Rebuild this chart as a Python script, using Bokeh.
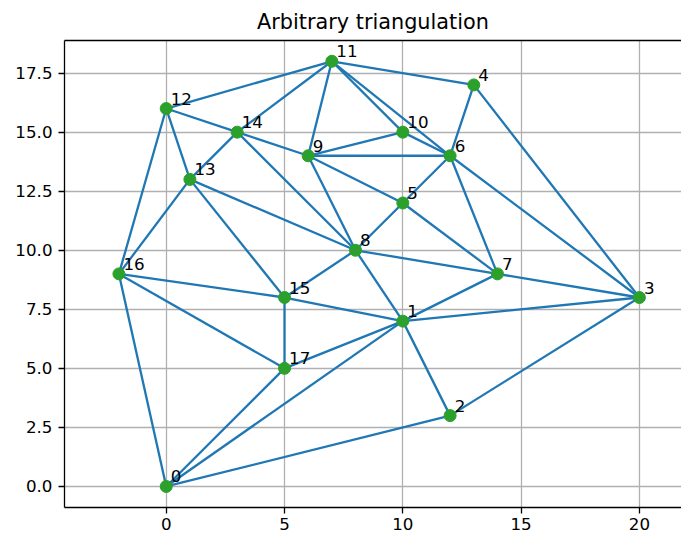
from bokeh.plotting import figure
from bokeh.models import Range1d, FixedTicker, PrintfTickFormatter, LinearAxis, ColumnDataSource
from bokeh.core.properties import value
from bokeh.embed import file_html
from bokeh.resources import INLINE

# Point coordinates (index = label)
xs = [0, 10, 12, 20, 13, 10, 12, 14, 8, 6, 10, 7, 0, 1, 3, 5, -2, 5]
ys = [0, 7, 3, 8, 17, 12, 14, 9, 10, 14, 15, 18, 16, 13, 15, 8, 9, 5]
labels = [str(i) for i in range(len(xs))]

# Triangles (vertex indices)
triangles = [
    (0, 16, 17), (0, 17, 1), (0, 1, 2), (1, 2, 3), (1, 3, 7), (1, 7, 8),
    (1, 8, 15), (1, 15, 17), (15, 16, 17), (13, 15, 16), (12, 13, 16),
    (8, 13, 15), (8, 13, 14), (12, 13, 14), (11, 12, 14), (9, 11, 14),
    (8, 9, 14), (5, 8, 9), (5, 6, 9), (6, 9, 10), (9, 10, 11), (6, 10, 11),
    (4, 6, 11), (3, 4, 6), (3, 6, 7), (5, 6, 7), (5, 7, 8),
]

x_ticks = [0, 5, 10, 15, 20]
y_ticks = [0, 2.5, 5, 7.5, 10, 12.5, 15, 17.5]

# unique edges from triangles
edges = set()
for t in triangles:
    for a, b in ((t[0], t[1]), (t[1], t[2]), (t[2], t[0])):
        edges.add((min(a, b), max(a, b)))
edges = sorted(edges)
ex = [[xs[a], xs[b]] for a, b in edges]
ey = [[ys[a], ys[b]] for a, b in edges]

FONT = "DejaVu Sans"

p = figure(width=681, height=537, output_backend="svg", toolbar_location=None,
           x_range=Range1d(-4.30, 21.78), y_range=Range1d(-0.89, 18.88),
           min_border_left=64, min_border_right=0, min_border_top=39, min_border_bottom=30,
           title="Arbitrary triangulation")
p.title.text_font = FONT
p.title.text_font_size = "20.8px"
p.title.text_font_style = "normal"
p.title.align = "center"
p.title.text_color = "black"
p.title.offset = 6
p.title.standoff = 14
p.outline_line_color = None
p.background_fill_color = "white"
p.border_fill_color = "white"

for ax in (p.xaxis[0], p.yaxis[0]):
    ax.major_label_text_font = FONT
    ax.major_label_text_font_size = "16.7px"
    ax.major_label_text_color = "black"
    ax.axis_line_color = "black"
    ax.axis_line_width = 1.3
    ax.major_tick_line_color = "black"
    ax.major_tick_line_width = 1.3
    ax.major_tick_out = 6
    ax.major_tick_in = 0
    ax.minor_tick_line_color = None
p.xaxis[0].major_label_standoff = 4
p.yaxis[0].major_label_standoff = 6

p.xaxis[0].ticker = FixedTicker(ticks=x_ticks)
p.yaxis[0].ticker = FixedTicker(ticks=y_ticks)
p.yaxis[0].formatter = PrintfTickFormatter(format="%.1f")
p.xaxis[0].formatter = PrintfTickFormatter(format="%d")

top = LinearAxis(ticker=FixedTicker(ticks=[]), axis_line_color="black", axis_line_width=1.3,
                 major_tick_out=0, major_tick_in=0, minor_tick_out=0, minor_tick_in=0,
                 major_label_text_font_size="0px", major_label_standoff=0)
p.add_layout(top, "above")

p.xgrid.ticker = FixedTicker(ticks=x_ticks)
p.ygrid.ticker = FixedTicker(ticks=y_ticks)
p.grid.grid_line_color = "#b0b0b0"
p.grid.grid_line_width = 1.3

p.multi_line(ex, ey, line_color="#1f77b4", line_width=2.3)
src = ColumnDataSource(dict(x=xs, y=ys, label=labels))
p.scatter("x", "y", source=src, size=12, fill_color="#2ca02c", line_color="#2ca02c")
p.text("x", "y", text="label", source=src, x_offset=4.5, y_offset=-4,
       text_font=value(FONT), text_font_size="16.7px", text_color="black",
       text_align="left", text_baseline="bottom")

open("out.html", "w").write(file_html(p, INLINE))
